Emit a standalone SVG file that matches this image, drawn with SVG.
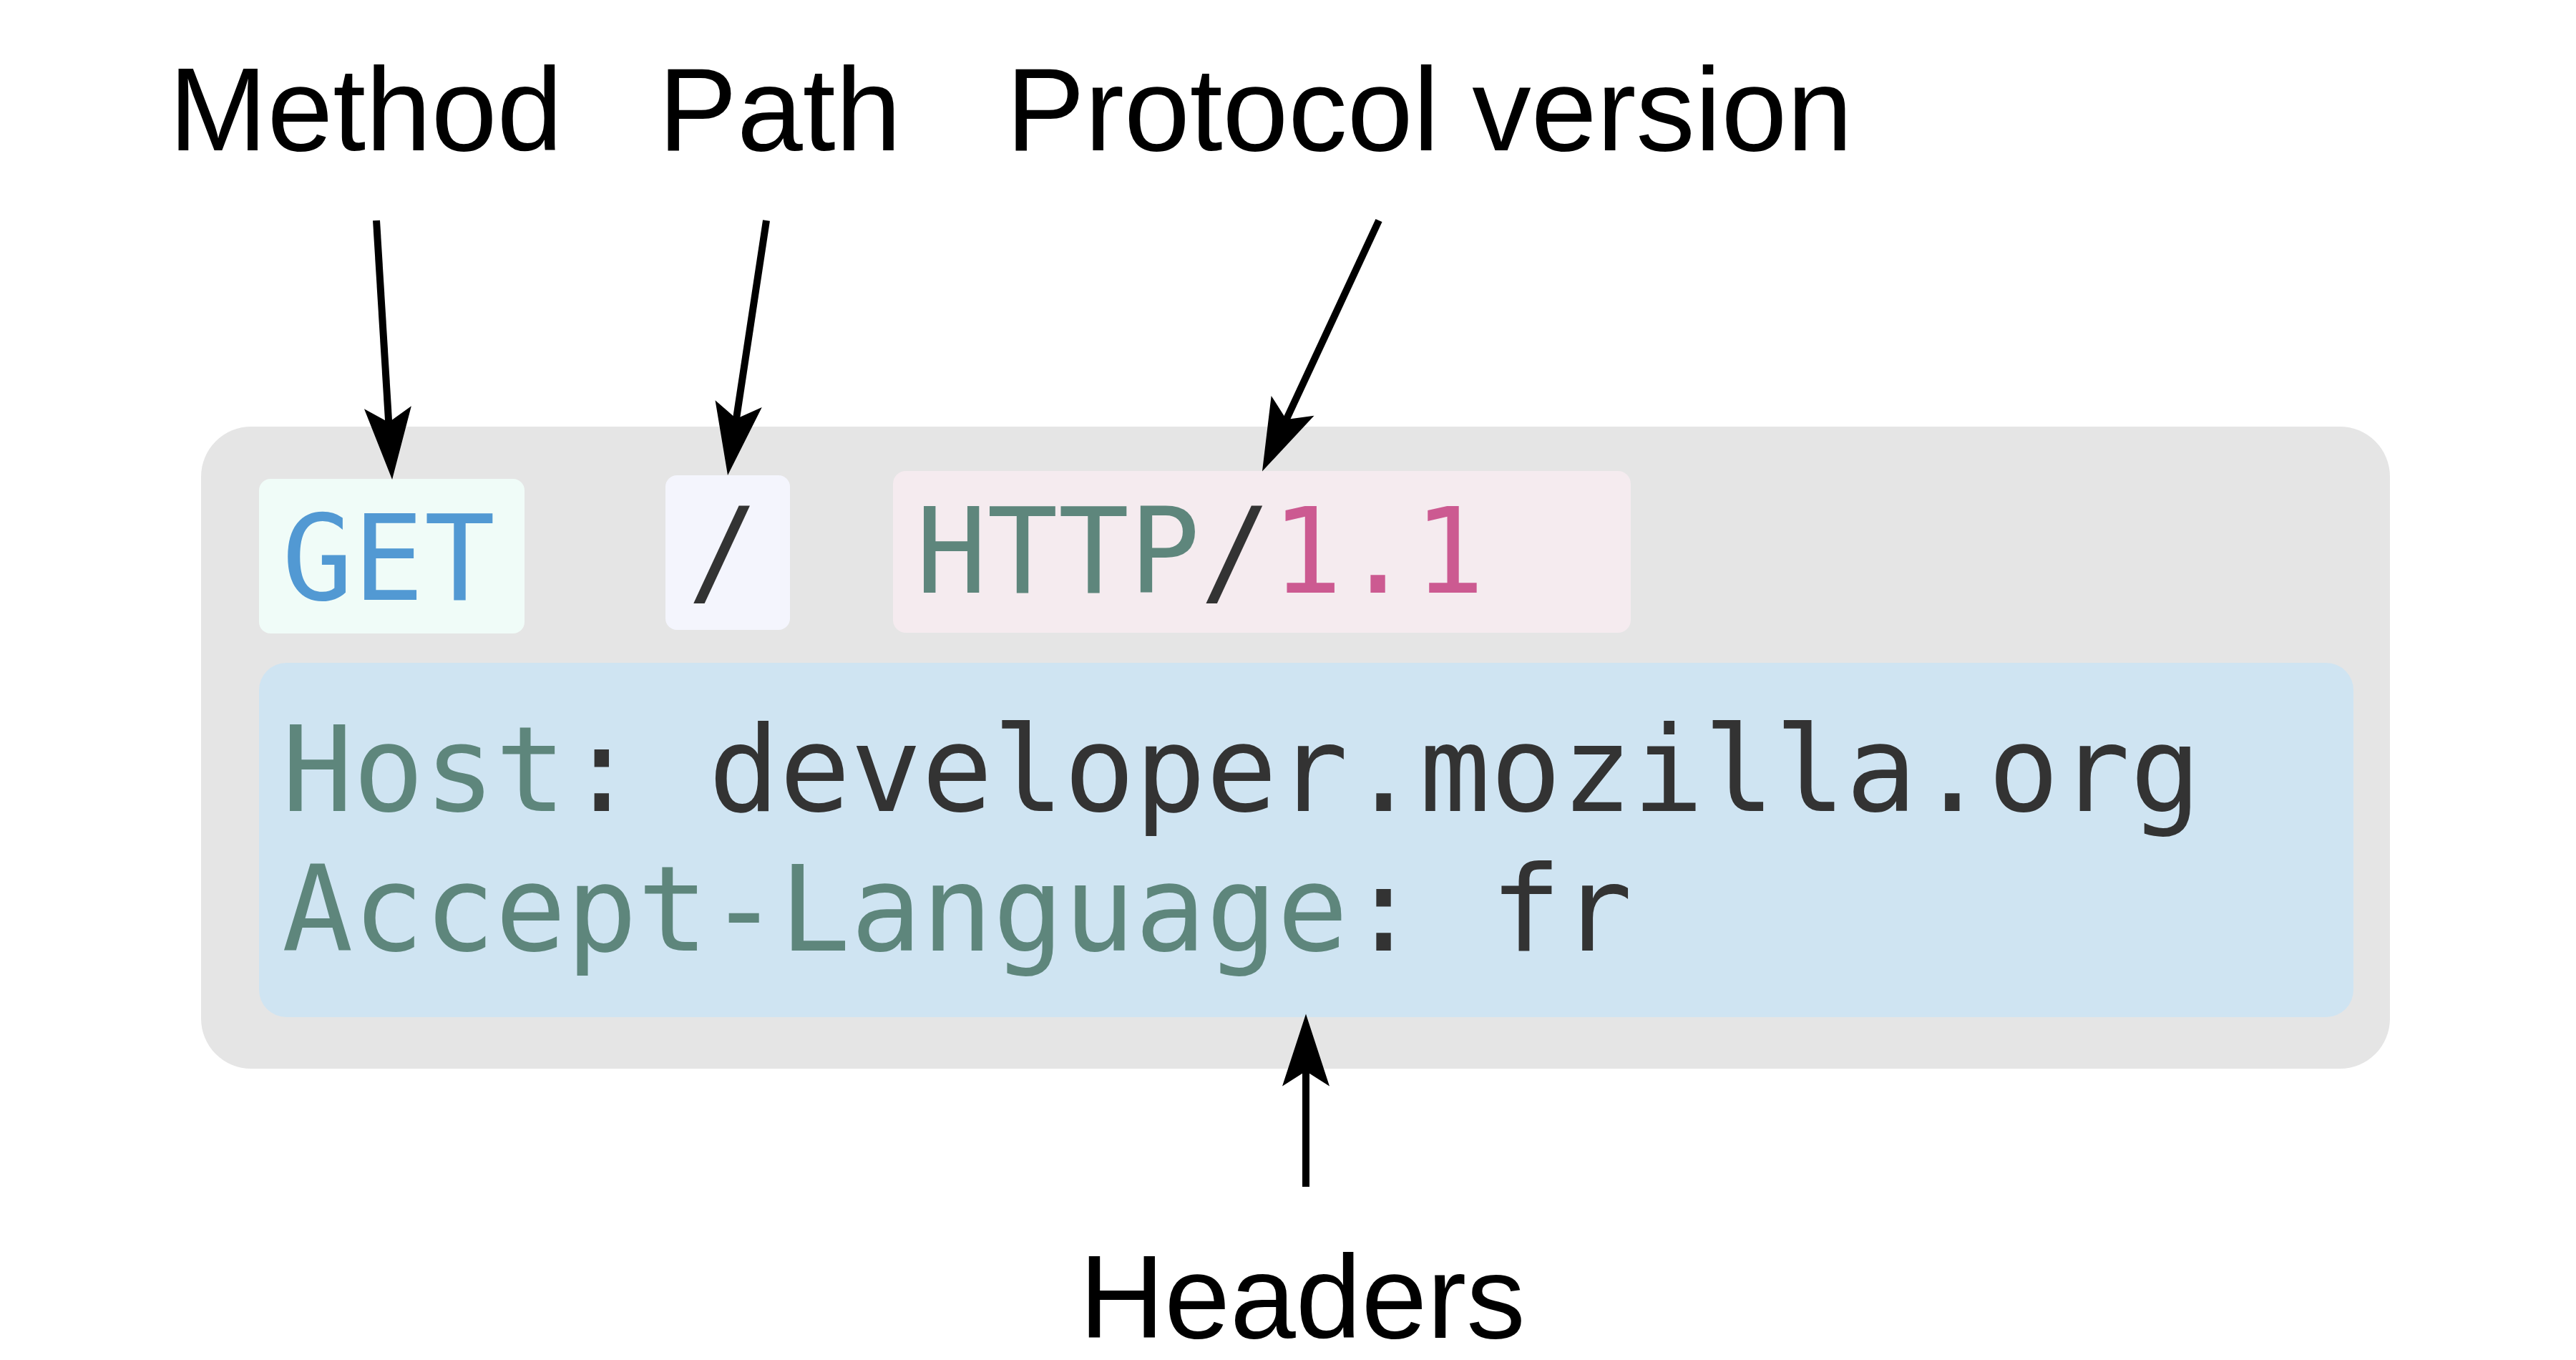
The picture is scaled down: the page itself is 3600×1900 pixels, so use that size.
<svg xmlns="http://www.w3.org/2000/svg" width="3600" height="1900" viewBox="0 0 3600 1900">
  <defs>
    <style>
      .label { font-family: "Liberation Sans", Arial, sans-serif; font-size: 165px; fill: #000000; }
      .mono { font-family: "DejaVu Sans Mono", "Liberation Mono", monospace; font-size: 165px; }
      .kw { fill: #5e867c; }
      .dark { fill: #333333; }
      .blue { fill: #5299d3; }
      .pink { fill: #cc5a91; }
      .conn { stroke: #000000; stroke-width: 10; fill: none; marker-end: url(#arrow); }
    </style>
    <marker id="arrow" markerUnits="userSpaceOnUse" orient="auto" refX="0" refY="0" markerWidth="200" markerHeight="200" overflow="visible">
      <path d="M70,0 L-31,-33 L-10,0 L-31,33 Z" fill="#000000"/>
    </marker>
  </defs>
  <rect width="3600" height="1900" fill="#ffffff"/>

  <g id="request">
    <rect x="281" y="596" width="3059" height="897" rx="70" ry="70" fill="#e5e5e5"/>
  </g>

  <g id="method-box">
    <rect x="362" y="669" width="371" height="216" rx="16" ry="16" fill="#f0fcf8"/>
    <text class="mono blue" x="394" y="838">GET</text>
  </g>

  <g id="path-box">
    <rect x="930" y="664" width="174" height="216" rx="16" ry="16" fill="#f4f5fd"/>
    <text class="mono dark" x="961" y="828">/</text>
  </g>

  <g id="version-box">
    <rect x="1248" y="658" width="1031" height="226" rx="18" ry="18" fill="#f5ebef"/>
    <text class="mono" x="1280" y="828"><tspan class="kw">HTTP</tspan><tspan class="dark">/</tspan><tspan class="pink">1.1</tspan></text>
  </g>

  <g id="headers-box">
    <rect x="362" y="926" width="2927" height="495" rx="38" ry="38" fill="#cfe4f2"/>
    <text class="mono" x="394" y="1133"><tspan class="kw">Host</tspan><tspan class="dark">: developer.mozilla.org</tspan></text>
    <text class="mono" x="394" y="1328"><tspan class="kw">Accept-Language</tspan><tspan class="dark">: fr</tspan></text>
  </g>

  <g id="label-method">
    <text class="label" x="236" y="210">Method</text>
  </g>
  <g id="label-path">
    <text class="label" x="920" y="210">Path</text>
  </g>
  <g id="label-protocol">
    <text class="label" x="1406" y="210">Protocol version</text>
  </g>
  <g id="label-headers">
    <text class="label" x="1820" y="1869" text-anchor="middle">Headers</text>
  </g>

  <g id="connectors">
    <line class="conn" x1="526" y1="308" x2="543.8" y2="600.1"/>
    <line class="conn" x1="1071" y1="308" x2="1027.5" y2="594.8"/>
    <line class="conn" x1="1927" y1="308" x2="1793.5" y2="595"/>
    <line class="conn" x1="1825" y1="1658" x2="1825" y2="1486.6"/>
  </g>
</svg>
